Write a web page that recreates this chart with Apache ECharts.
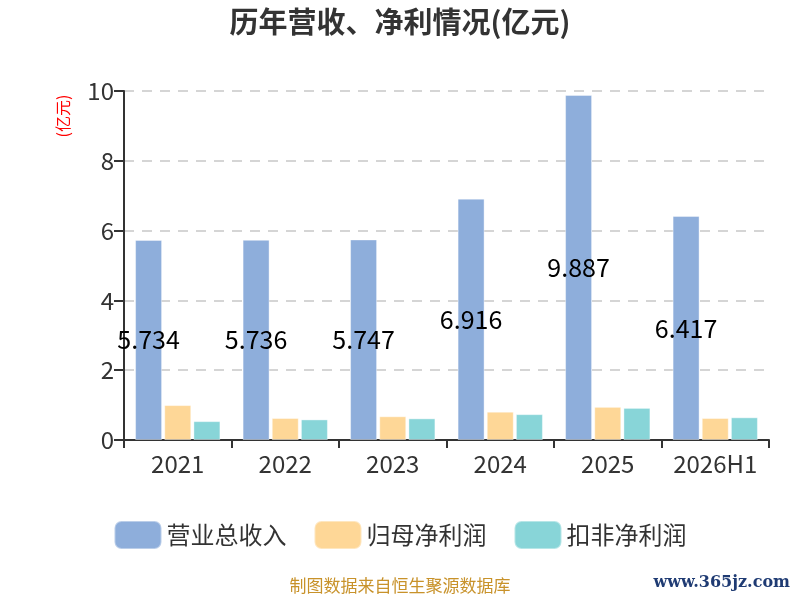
<!DOCTYPE html>
<html>
<head>
<meta charset="utf-8">
<script src="https://cdn.jsdelivr.net/npm/echarts@6/dist/echarts.min.js"></script>
<style>
  html, body { margin: 0; padding: 0; background: #fff; }
  #main { width: 800px; height: 600px; }
</style>
</head>
<body>
<div id="main"></div>
<script>
// 数据
var years = ['2021', '2022', '2023', '2024', '2025', '2026H1'];
var revenue = [5.734, 5.736, 5.747, 6.916, 9.887, 6.417]; // 营业总收入
var netProfit = [1.00, 0.63, 0.68, 0.81, 0.95, 0.63];     // 归母净利润
var deductProfit = [0.54, 0.59, 0.62, 0.74, 0.92, 0.65];  // 扣非净利润

var font = '"Noto Sans CJK SC", "Noto Sans", sans-serif';
var chart = echarts.init(document.getElementById('main'));

chart.setOption({
  animation: false,
  textStyle: { fontFamily: font },
  color: ['#8eaedb', '#fed797', '#88d5d8'],
  title: {
    text: '历年营收、净利情况(亿元)',
    left: 'center',
    top: 2,
    textStyle: { fontSize: 29, fontWeight: 'bold', color: '#333', fontFamily: font }
  },
  grid: { left: 124, right: 31, top: 91, bottom: 160 },
  legend: {
    bottom: 45,
    left: 'center',
    itemWidth: 47,
    itemHeight: 28,
    itemGap: 27,
    icon: 'roundRect',
    textStyle: { fontSize: 24, color: '#333', fontFamily: font },
    data: ['营业总收入', '归母净利润', '扣非净利润']
  },
  xAxis: {
    type: 'category',
    data: years,
    axisLine: { lineStyle: { color: '#333', width: 2 } },
    axisTick: { show: true, interval: 0, length: 8, lineStyle: { width: 2 } },
    axisLabel: { interval: 0, fontSize: 24, color: '#333', margin: 12 }
  },
  yAxis: {
    type: 'value',
    min: 0,
    max: 10,
    interval: 2,
    axisLine: { show: true, lineStyle: { color: '#333', width: 2 } },
    axisTick: { show: true, length: 10, lineStyle: { width: 2 } },
    axisLabel: { fontSize: 24, color: '#333', margin: 10 },
    splitLine: { lineStyle: { type: [10, 8], color: '#c8c8c8', width: 1.5 } }
  },
  series: [{
      name: '营业总收入',
      type: 'bar',
      barWidth: 27,
      barGap: '8%',
      data: revenue,
      itemStyle: { borderColor: 'rgba(255,255,255,0.4)', borderWidth: 1 },
      label: { show: true, position: 'inside', fontSize: 25, color: '#000' }
    },
    {
      name: '归母净利润',
      type: 'bar',
      barWidth: 27,
      barGap: '8%',
      data: netProfit,
      itemStyle: { borderColor: 'rgba(255,255,255,0.4)', borderWidth: 1 }
    },
    {
      name: '扣非净利润',
      type: 'bar',
      barWidth: 27,
      barGap: '8%',
      data: deductProfit,
      itemStyle: { borderColor: 'rgba(255,255,255,0.4)', borderWidth: 1 }
    }
  ],
  graphic: [{
      type: 'text',
      x: 63,
      y: 116,
      rotation: Math.PI / 2,
      style: {
        text: '(亿元)',
        fill: '#ff0000',
        fontSize: 16,
        fontFamily: font,
        align: 'center',
        verticalAlign: 'middle'
      }
    },
    {
      type: 'text',
      left: 'center',
      top: 577,
      style: {
        text: '制图数据来自恒生聚源数据库',
        fill: '#c8922a',
        fontSize: 17,
        fontFamily: font
      }
    },
    {
      type: 'text',
      right: 10,
      top: 575,
      style: {
        text: 'www.365jz.com',
        fill: '#1f3b73',
        fontSize: 16,
        fontWeight: 'bold',
        fontFamily: '"DejaVu Serif", serif'
      }
    }
  ]
});
</script>
</body>
</html>
